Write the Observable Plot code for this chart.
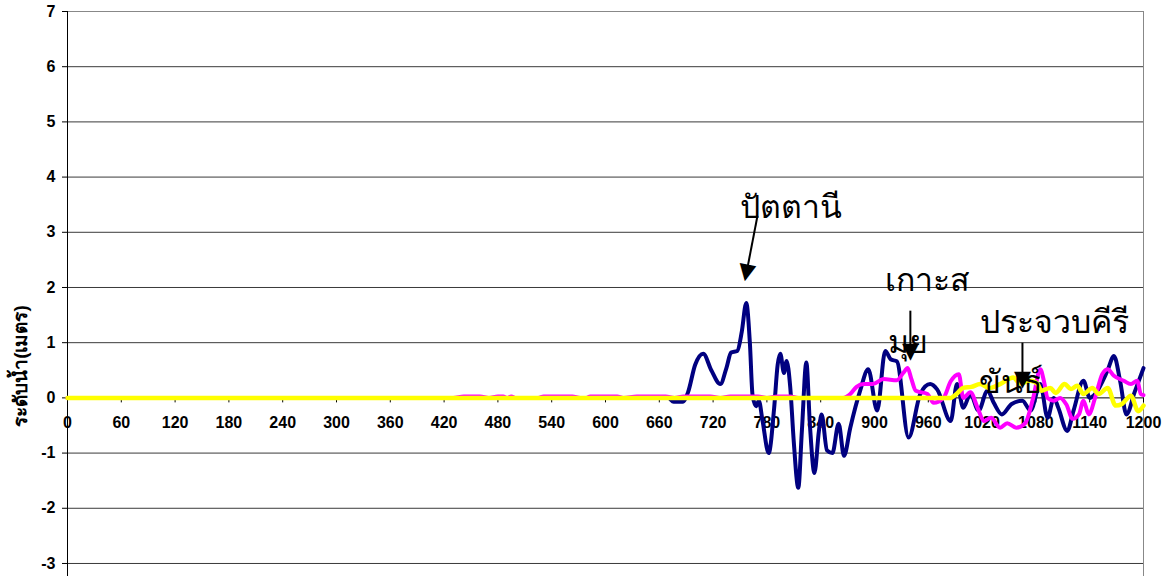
<!DOCTYPE html>
<html><head><meta charset="utf-8">
<script src="https://cdn.jsdelivr.net/npm/d3@7"></script>
<script src="https://cdn.jsdelivr.net/npm/@observablehq/plot@0.6"></script>
<style>html,body{margin:0;padding:0;background:#fff;overflow:hidden}</style>
</head><body><div id="chart"></div>
<script>
// time axis (minutes) and water level (m)
const xTicks = [0,60,120,180,240,300,360,420,480,540,600,660,720,780,840,900,960,1020,1080,1140,1200];
const yTicks = [-3,-2,-1,0,1,2,3,4,5,6,7];
const yTitle = "ระดับน้ำ(เมตร)";

// ปัตตานี (navy)
const pattaniT = [0,670,676,686,692,700,709,718,728,735,740,747,752,757,761,764,768,771,775,782,788,792,795,799,802,806,810,815,819,824,828,833,838,841,847,853,860,866,873,884,893,903,912,918,925,938,951,962,970,985,992,999,1007,1016,1026,1033,1042,1053,1065,1074,1085,1093,1100,1105,1115,1122,1133,1140,1146,1160,1167,1174,1181,1190,1200];
const pattaniV = [0,0,-0.07,-0.07,0.1,0.6,0.8,0.5,0.25,0.55,0.82,0.85,1.2,1.72,1.0,0.05,-0.15,-0.05,-0.4,-1.0,-0.2,0.6,0.8,0.45,0.67,0.2,-0.8,-1.63,-0.6,0.64,-0.5,-1.36,-0.6,-0.3,-0.95,-1.0,-0.47,-1.05,-0.54,0.13,0.52,-0.23,0.85,0.7,0.66,-0.72,0.07,0.25,0.15,-0.42,0.25,-0.18,0.07,-0.23,0.13,-0.09,-0.3,-0.11,-0.05,-0.23,0.25,-0.36,0,-0.18,-0.6,-0.23,0.31,0,0.07,0.5,0.76,0.3,-0.3,0.1,0.54];

// เกาะสมุย (magenta)
const samuiT = [0,430,442,460,470,480,486,490,495,500,525,531,563,572,578,583,613,620,635,667,677,687,717,728,739,770,780,792,806,815,865,873,880,888,898,910,925,932,937,941,946,959,966,977,985,994,999,1007,1015,1022,1030,1040,1048,1058,1068,1077,1085,1089,1093,1100,1107,1114,1121,1128,1133,1139,1146,1154,1160,1167,1178,1186,1193,1197,1200];
const samuiV = [0,0,0.025,0.025,0,0.025,0.025,0,0.025,0,0,0.025,0.025,0,0,0.025,0.025,0,0.025,0.025,0,0.025,0.025,0,0.025,0.025,0,0.025,0.025,0,0,0.07,0.2,0.25,0.25,0.34,0.32,0.45,0.54,0.35,0.13,0.07,-0.09,0,0.3,0.43,0,0.1,-0.18,-0.42,-0.36,-0.54,-0.46,-0.54,-0.46,0,0.52,0.3,0,-0.05,0,-0.12,-0.38,-0.3,-0.05,-0.3,0,0.43,0.52,0.4,0.31,0.25,0.31,0.07,0.05];

// ประจวบคีรีขันธ์ (yellow)
const prachuapT = [0,985,990,999,1008,1018,1028,1040,1055,1062,1074,1082,1086,1096,1102,1112,1119,1126,1133,1143,1150,1160,1169,1176,1186,1194,1200];
const prachuapV = [0,0,0.05,0.18,0.2,0.25,0.18,0.25,0.37,0.26,0.31,0.25,0.13,0.18,0.09,0.25,0.16,0.22,0.07,0.18,0.07,0.18,-0.14,-0.11,0.04,-0.24,-0.14];

// annotation text lines (left edge, line centre)
const noteText = ["ปัตตานี", "เกาะส", "มุย", "ประจวบคีรี", "ขันธ์"];
const noteX = [750, 912, 915, 1018, 1016];
const noteY = [3.44, 2.12, 1.0, 1.36, 0.28];
// annotation arrows: tail -> head
const arrowX1 = [769.5, 940, 1065];
const arrowY1 = [3.30, 1.58, 1.0];
const arrowX2 = [756, 940, 1065];
const arrowY2 = [2.16, 0.72, 0.22];

const toRows = (T, V) => T.map((t, i) => ({t, v: V[i]}));
const pattani = toRows(pattaniT, pattaniV);
const samui = toRows(samuiT, samuiV);
const prachuap = toRows(prachuapT, prachuapV);
const notes = noteText.map((s, i) => ({s, x: noteX[i], y: noteY[i]}));
const arrows = arrowX1.map((x1, i) => ({x1, y1: arrowY1[i], x2: arrowX2[i], y2: arrowY2[i]}));

const tickFont = "'Liberation Sans', Arial, sans-serif";
const yScaleDomain = [-3.236, 7];
const xScaleDomain = [0, 1200];
const pxPerX = (1163 - 67 - 20) / (xScaleDomain[1] - xScaleDomain[0]);
const pxPerY = (576 - 11) / (yScaleDomain[1] - yScaleDomain[0]);
// head direction angle (deg, clockwise from pointing down)
const headAngle = a => Math.atan2(-(a.x2 - a.x1) * pxPerX, -(a.y2 - a.y1) * pxPerY) * 180 / Math.PI;

const chart = Plot.plot({
  width: 1163, height: 576,
  marginLeft: 67, marginRight: 20, marginTop: 11, marginBottom: 0,
  style: {background: "#fff", fontFamily: tickFont},
  x: {domain: xScaleDomain, axis: null},
  y: {domain: yScaleDomain, axis: null},
  marks: [
    Plot.ruleY(yTicks.filter(d => d !== 7 && d !== 0), {stroke: "#3a3a3a", strokeWidth: 1}),
    Plot.frame({anchor: "top", stroke: "#888"}),
    Plot.frame({anchor: "right", stroke: "#888"}),
    Plot.axisY({ticks: yTicks, tickSize: 5, tickPadding: 7, fontSize: 16, fontWeight: "bold", label: null, tickFormat: d => String(d)}),
    Plot.ruleX([0], {stroke: "#000"}),
    Plot.ruleY([0], {stroke: "#000"}),
    Plot.ruleX(xTicks, {x: d => d, y1: 0, y2: 0, insetBottom: -5, stroke: "#000"}),
    Plot.text(xTicks, {x: d => d, y: 0, dy: 25, text: d => String(d), fontSize: 16, fontWeight: "bold", fill: "#000"}),
    Plot.text([yTitle], {frameAnchor: "left", textAnchor: "middle", rotate: -90, dx: -47, dy: 72, text: d => d, fontSize: 19, fontWeight: "bold", fill: "#000"}),
    Plot.line(pattani, {x: "t", y: "v", stroke: "#000080", strokeWidth: 4, curve: "monotone-x"}),
    Plot.line(samui, {x: "t", y: "v", stroke: "#ff00ff", strokeWidth: 4, curve: "monotone-x"}),
    Plot.line(prachuap, {x: "t", y: "v", stroke: "#ffff00", strokeWidth: 4.5, curve: "monotone-x"}),
    Plot.link(arrows, {x1: "x1", y1: "y1", x2: "x2", y2: "y2", stroke: "#000", strokeWidth: 2}),
    Plot.text(arrows, {x: "x2", y: "y2", text: () => "▼", rotate: headAngle, lineAnchor: "bottom", fontSize: 22, fontFamily: "'DejaVu Sans', sans-serif", fill: "#000"}),
    Plot.text(notes, {x: "x", y: "y", text: "s", textAnchor: "start", lineAnchor: "middle", fontSize: 32, fontFamily: "'Liberation Serif', serif", fill: "#000"})
  ]
});
document.getElementById("chart").appendChild(chart);
</script>
</body></html>
